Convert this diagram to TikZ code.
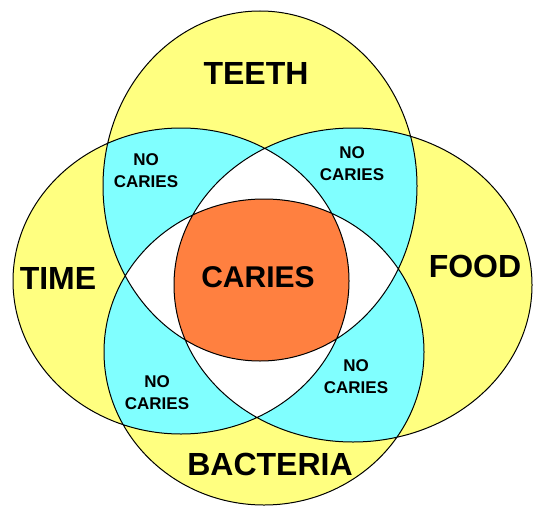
\documentclass[tikz,border=0pt]{standalone}
\usepackage{fontspec}
\setmainfont{Liberation Sans}
\usepackage{tikz}

\definecolor{lobe}{HTML}{FFFF80}
\definecolor{pair}{HTML}{80FFFF}
\definecolor{core}{HTML}{FF8040}

% the four sets
\def\teethset{(260,186) ellipse [x radius=157,y radius=175]}
\def\bactset{(264,352) ellipse [x radius=160,y radius=153]}
\def\timeset{(181,281) ellipse [x radius=168,y radius=153]}
\def\foodset{(353,285) ellipse [x radius=179,y radius=157]}

\tikzset{
  big/.style={font=\fontsize{32}{34}\selectfont\bfseries},
  small/.style={font=\fontsize{17}{22}\selectfont\bfseries,align=center},
}

\begin{document}
\begin{tikzpicture}[x=1pt,y=-1pt]
\useasboundingbox (0,0) rectangle (534,508);
% single sets
\fill[lobe] \teethset \bactset \timeset \foodset;
% pairs
\begin{scope}\clip \teethset; \fill[pair] \timeset; \fill[pair] \foodset; \fill[pair] \bactset;\end{scope}
\begin{scope}\clip \bactset; \fill[pair] \timeset; \fill[pair] \foodset;\end{scope}
\begin{scope}\clip \timeset; \fill[pair] \foodset;\end{scope}
% triples
\begin{scope}\clip \teethset; \clip \timeset; \fill[white] \foodset; \fill[white] \bactset;\end{scope}
\begin{scope}\clip \bactset; \clip \foodset; \fill[white] \teethset; \fill[white] \timeset;\end{scope}
% all four
\begin{scope}\clip \teethset; \clip \timeset; \clip \foodset; \fill[core] \bactset;\end{scope}
\draw[line width=1pt] \teethset \bactset \timeset \foodset;

\node[big] (teeth) at (256,73) {TEETH};
\node[big] (time) at (58,278) {TIME};
\node[big] (food) at (475,266) {FOOD};
\node[big] (bact) at (270,464) {BACTERIA};
\node[big,font=\fontsize{30}{32}\selectfont\bfseries] (caries) at (258,277) {CARIES};
\node[small] (nc1) at (146,171) {NO\\CARIES};
\node[small] (nc2) at (352,164) {NO\\CARIES};
\node[small] (nc3) at (157,393) {NO\\CARIES};
\node[small] (nc4) at (356,377) {NO\\CARIES};
\end{tikzpicture}
\end{document}
